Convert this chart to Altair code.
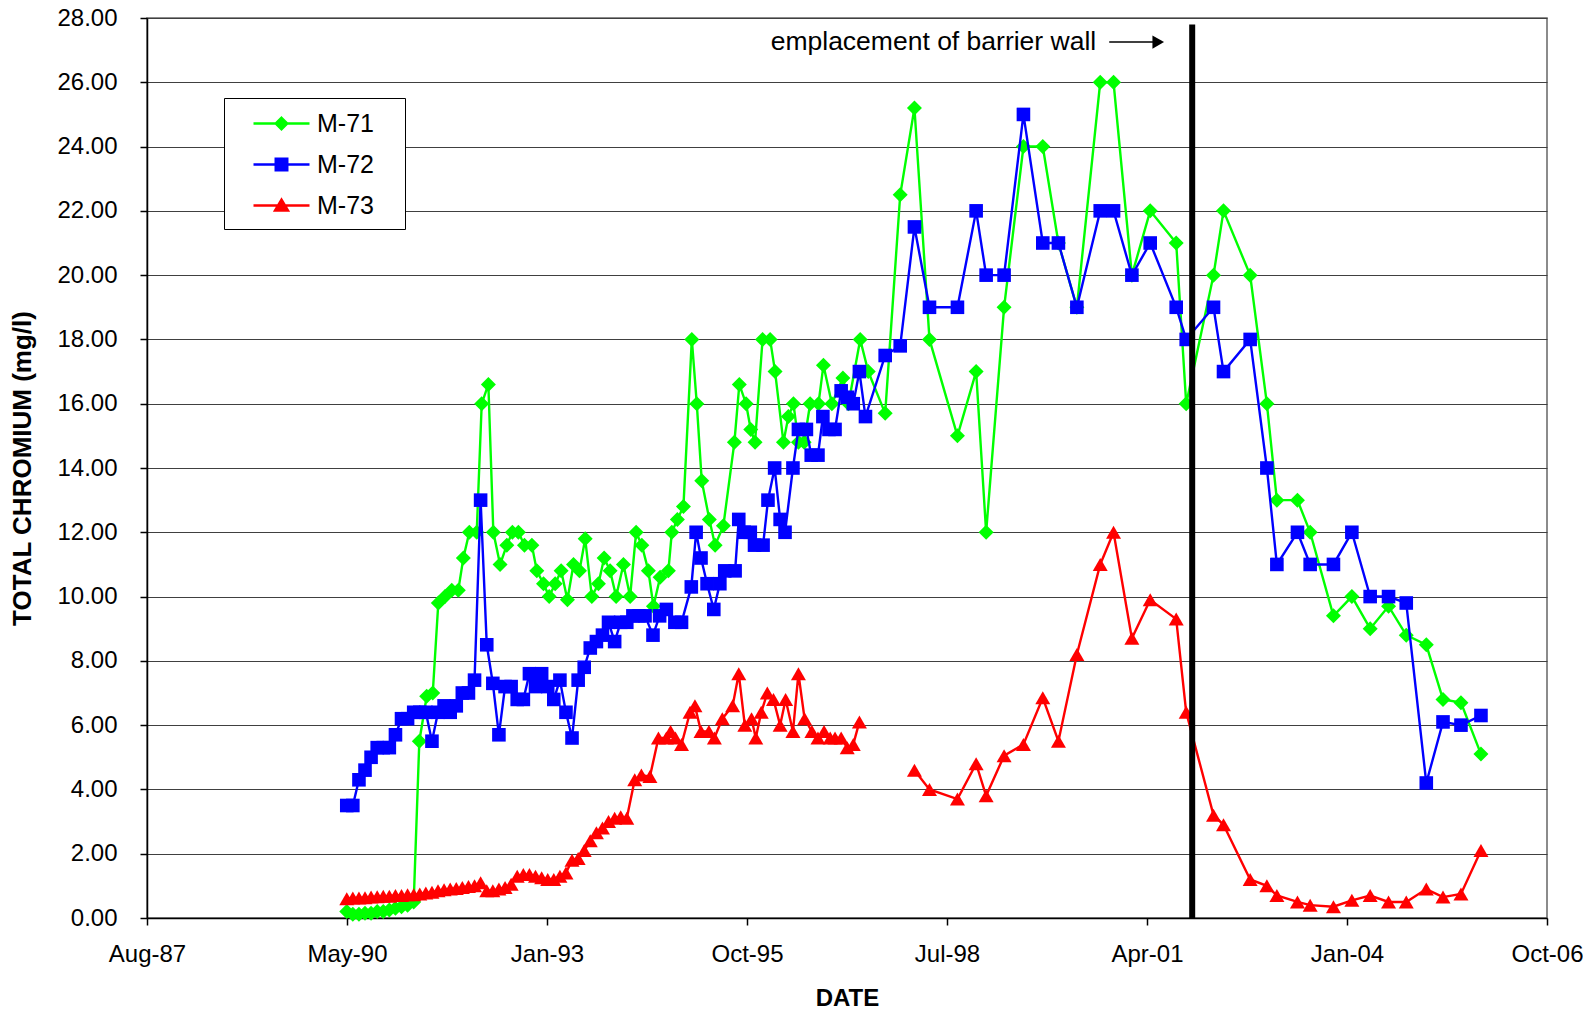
import altair as alt
import numpy as np
import pandas as pd

FONT = "Liberation Sans"

SERIES = ["M-71", "M-72", "M-73"]
COLORS = ["#00FF00", "#0000FF", "#FF0000"]
MARKERS = ["diamond", "square", "triangle-up"]
MARKER_SIZES = [225, 185, 225]

# legend glyphs: a line through a solid marker (unit = sqrt(symbolSize)/2 px)
_LINE = "M-2,0H2"
_PAD = "M7.75,0"
LEGEND_GLYPHS = [
    _LINE + "M0,-0.41L0.41,0L0,0.41L-0.41,0Z"
            "M0,-0.27L0.27,0L0,0.27L-0.27,0Z"
            "M0,-0.13L0.13,0L0,0.13L-0.13,0Z" + _PAD,
    _LINE + "M-0.41,-0.41H0.41V0.41H-0.41Z"
            "M-0.27,-0.27H0.27V0.27H-0.27Z"
            "M-0.13,-0.13H0.13V0.13H-0.13Z" + _PAD,
    _LINE + "M0,-0.42L0.46,0.36L-0.46,0.36Z"
            "M0,-0.238L0.3,0.269L-0.3,0.269Z"
            "M0,-0.056L0.138,0.178L-0.138,0.178Z" + _PAD,
]

# ---- data (decimal years, mg/l) ----
M71_YEARS = [
    1990.342, 1990.425, 1990.509, 1990.592, 1990.675, 1990.759, 1990.842, 1990.925,
    1991.009, 1991.092, 1991.175, 1991.259,
    1991.336, 1991.437, 1991.520, 1991.596, 1991.688, 1991.780, 1991.870, 1991.939,
    1992.021, 1992.122, 1992.190, 1992.281, 1992.349, 1992.441, 1992.533, 1992.609,
    1992.691, 1992.774, 1992.875, 1992.943,
    1993.034, 1993.112, 1993.194, 1993.276, 1993.362, 1993.445, 1993.527, 1993.605,
    1993.696, 1993.787, 1993.865, 1993.947,
    1994.029, 1994.129, 1994.221, 1994.303, 1994.381, 1994.471, 1994.540, 1994.632,
    1994.745, 1994.792, 1994.868, 1994.951,
    1995.066, 1995.134, 1995.202, 1995.306, 1995.385, 1995.498, 1995.649, 1995.717,
    1995.809, 1995.873, 1995.932,
    1996.035, 1996.138, 1996.206, 1996.320, 1996.388, 1996.457, 1996.525, 1996.603,
    1996.685, 1996.799, 1996.867, 1996.982,
    1997.133, 1997.210, 1997.370, 1997.480, 1997.712, 1997.918,
    1998.113, 1998.319, 1998.702, 1998.958, 1999.095, 1999.341, 1999.606, 1999.871,
    2000.085, 2000.337, 2000.656, 2000.838, 2001.089, 2001.340, 2001.696, 2001.833,
    2002.207, 2002.344, 2002.709, 2002.938, 2003.075, 2003.357, 2003.531, 2003.850,
    2004.102, 2004.352, 2004.603, 2004.845, 2005.119, 2005.348, 2005.594, 2005.868,
]
M71_VALUES = [
    0.2, 0.12, 0.12, 0.15, 0.15, 0.2, 0.2, 0.25, 0.3, 0.35, 0.4, 0.5,
    5.5, 6.9, 7.0, 9.8, 10.0, 10.2, 10.2, 11.2,
    12.0, 12.0, 16.0, 16.6, 12.0, 11.0, 11.6, 12.0, 12.0, 11.6, 11.6, 10.8,
    10.4, 10.0, 10.4, 10.8, 9.9, 11.0, 10.8, 11.8, 10.0, 10.4, 11.2, 10.8,
    10.0, 11.0, 10.0, 12.0, 11.6, 10.8, 9.7, 10.6, 10.8, 12.0, 12.4, 12.8,
    18.0, 16.0, 13.6, 12.4, 11.6, 12.2, 14.8, 16.6, 16.0, 15.2, 14.8,
    18.0, 18.0, 17.0, 14.8, 15.6, 16.0, 14.8, 14.8, 16.0, 16.0, 17.2, 16.0,
    16.8, 16.0, 18.0, 17.0, 15.7, 22.5,
    25.2, 18.0, 15.0, 17.0, 12.0, 19.0, 24.0, 24.0,
    21.0, 19.0, 26.0, 26.0, 20.0, 22.0, 21.0, 16.0,
    20.0, 22.0, 20.0, 16.0, 13.0, 13.0, 12.0, 9.4,
    10.0, 9.0, 9.7, 8.8, 8.5, 6.8, 6.7, 5.1,
]

M72_YEARS = [
    1990.342, 1990.425, 1990.509, 1990.592, 1990.675, 1990.759, 1990.842, 1990.925,
    1991.009, 1991.092, 1991.175, 1991.259, 1991.342, 1991.425, 1991.509, 1991.592,
    1991.675, 1991.759, 1991.842, 1991.925, 1992.009, 1992.092, 1992.175, 1992.259,
    1992.342, 1992.425, 1992.509, 1992.592, 1992.675, 1992.759, 1992.842, 1992.925,
    1993.009, 1993.092, 1993.175, 1993.259, 1993.342, 1993.425, 1993.509, 1993.592,
    1993.675, 1993.759, 1993.842, 1993.925, 1994.009, 1994.092, 1994.175, 1994.259,
    1994.342, 1994.425,
    1994.534, 1994.625, 1994.717, 1994.834, 1994.925,
    1995.059, 1995.125, 1995.192, 1995.275, 1995.367, 1995.450, 1995.517, 1995.659,
    1995.709, 1995.784, 1995.867, 1995.925,
    1996.042, 1996.109, 1996.200, 1996.275, 1996.342, 1996.450, 1996.525, 1996.634,
    1996.700, 1996.792, 1996.859, 1996.942,
    1997.025, 1997.109, 1997.192, 1997.275, 1997.359, 1997.442,
    1997.712, 1997.918,
    1998.113, 1998.319, 1998.702, 1998.958, 1999.095, 1999.341, 1999.606, 1999.871,
    2000.085, 2000.337, 2000.656, 2000.838, 2001.089, 2001.340, 2001.696, 2001.833,
    2002.207, 2002.344, 2002.709, 2002.938, 2003.075, 2003.357, 2003.531, 2003.850,
    2004.102, 2004.352, 2004.603, 2004.845, 2005.119, 2005.348, 2005.594, 2005.868,
]
M72_VALUES = [
    3.5, 3.5, 4.3, 4.6, 5.0, 5.3, 5.3, 5.3, 5.7, 6.2,
    6.2, 6.4, 6.4, 6.4, 5.5, 6.4, 6.6, 6.4, 6.6, 7.0,
    7.0, 7.4, 13.0, 8.5, 7.3, 5.7, 7.2, 7.2, 6.8, 6.8,
    7.6, 7.2, 7.6, 7.2, 6.8, 7.4, 6.4, 5.6, 7.4, 7.8,
    8.4, 8.6, 8.8, 9.2, 8.6, 9.2, 9.2, 9.4, 9.4, 9.4,
    8.8, 9.4, 9.6, 9.2, 9.2,
    10.3, 12.0, 11.2, 10.4, 9.6, 10.4, 10.8, 10.8, 12.4, 12.0, 12.0, 11.6,
    11.6, 13.0, 14.0, 12.4, 12.0, 14.0, 15.2, 15.2, 14.4, 14.4, 15.6, 15.2,
    15.2, 16.4, 16.2, 16.0, 17.0, 15.6,
    17.5, 17.8,
    21.5, 19.0, 19.0, 22.0, 20.0, 20.0, 25.0, 21.0,
    21.0, 19.0, 22.0, 22.0, 20.0, 21.0, 19.0, 18.0,
    19.0, 17.0, 18.0, 14.0, 11.0, 12.0, 11.0, 11.0,
    12.0, 10.0, 10.0, 9.8, 4.2, 6.1, 6.0, 6.3,
]

# None = no sample (the line is broken there)
M73_YEARS = [
    1990.342, 1990.425, 1990.509, 1990.592, 1990.675, 1990.759, 1990.842, 1990.925,
    1991.009, 1991.092, 1991.175, 1991.259, 1991.342, 1991.425, 1991.509, 1991.592,
    1991.675, 1991.759, 1991.842, 1991.925, 1992.009, 1992.092, 1992.175, 1992.259,
    1992.342, 1992.425, 1992.509, 1992.592, 1992.675, 1992.759, 1992.842, 1992.925,
    1993.009, 1993.092, 1993.175, 1993.259, 1993.342, 1993.425, 1993.509, 1993.592,
    1993.675, 1993.759, 1993.842, 1993.925, 1994.009, 1994.092, 1994.175,
    1994.284, 1994.375, 1994.492, 1994.609, 1994.717, 1994.775, 1994.842, 1994.925,
    1995.042, 1995.109, 1995.192, 1995.300, 1995.375, 1995.484, 1995.625, 1995.709,
    1995.792, 1995.884, 1995.942,
    1996.017, 1996.100, 1996.184, 1996.275, 1996.350, 1996.450, 1996.525, 1996.609,
    1996.709, 1996.792, 1996.875, 1996.959,
    1997.025, 1997.109, 1997.192, 1997.275, 1997.359,
    1997.712,
    1998.113, 1998.319, 1998.702, 1998.958, 1999.095, 1999.341, 1999.606, 1999.871,
    2000.085, 2000.337, 2000.656, 2000.838, 2001.089, 2001.340, 2001.696, 2001.833,
    2002.207, 2002.344, 2002.709, 2002.938, 2003.075, 2003.357, 2003.531, 2003.850,
    2004.102, 2004.352, 2004.603, 2004.845, 2005.119, 2005.348, 2005.594, 2005.868,
]
M73_VALUES = [
    0.6, 0.62, 0.62, 0.63, 0.65, 0.66, 0.68, 0.68, 0.7, 0.7,
    0.72, 0.72, 0.75, 0.78, 0.8, 0.85, 0.88, 0.9, 0.92, 0.95,
    0.98, 1.0, 1.1, 0.85, 0.85, 0.9, 0.95, 1.05, 1.3, 1.35,
    1.35, 1.3, 1.25, 1.2, 1.2, 1.3, 1.4, 1.8, 1.85, 2.1,
    2.4, 2.65, 2.8, 3.0, 3.1, 3.15, 3.1,
    4.3, 4.45, 4.4, 5.6, 5.6, 5.8, 5.6, 5.4,
    6.4, 6.6, 5.8, 5.8, 5.6, 6.2, 6.6, 7.6, 6.0, 6.2, 5.6,
    6.4, 7.0, 6.8, 6.0, 6.8, 5.8, 7.6, 6.2, 5.8, 5.6, 5.8, 5.6,
    5.6, 5.6, 5.3, 5.4, 6.1,
    None,
    4.6, 4.0, 3.7, 4.8, 3.8, 5.05, 5.4, 6.85,
    5.5, 8.2, 11.0, 12.0, 8.7, 9.9, 9.3, 6.4,
    3.2, 2.9, 1.2, 1.0, 0.7, 0.5, 0.4, 0.35,
    0.55, 0.7, 0.5, 0.5, 0.9, 0.65, 0.75, 2.1,
]

SERIES_YEARS = [M71_YEARS, M72_YEARS, M73_YEARS]
SERIES_VALUES = [M71_VALUES, M72_VALUES, M73_VALUES]

# annotation
BARRIER_YEAR = 2001.915
BARRIER_TOP = 27.8
NOTE_TEXT = "emplacement of barrier wall"
NOTE_END_YEAR = 2000.601
NOTE_LEVEL = 27.25
ARROW_FROM_YEAR = 2000.779
ARROW_TO_YEAR = 2001.450

# axis: Excel-style date axis, 1000-day major unit
X_START = pd.Timestamp("1987-08-11")
TICK_STEP_DAYS = 1000
N_TICKS = 8
Y_TICKS = list(range(0, 29, 2))


def year_to_ms(yr):
    y = int(np.floor(yr))
    start = pd.Timestamp(year=y, month=1, day=1)
    end = pd.Timestamp(year=y + 1, month=1, day=1)
    t = start + (end - start) * (yr - y)
    return int(t.value // 1_000_000)


def dt(ts):
    return alt.DateTime(year=ts.year, month=ts.month, date=ts.day, utc=True)


rows = []
for name, yrs, vals in zip(SERIES, SERIES_YEARS, SERIES_VALUES):
    assert len(yrs) == len(vals), (name, len(yrs), len(vals))
    seg = 0
    for yr, v in zip(yrs, vals):
        if v is None:
            seg += 1
            continue
        rows.append({"series": name, "t": year_to_ms(yr), "v": v, "seg": f"{name}-{seg}"})
df = pd.DataFrame(rows)

ticks = [X_START + pd.Timedelta(days=TICK_STEP_DAYS * i) for i in range(N_TICKS)]

x_scale = alt.Scale(type="utc", domain=[dt(ticks[0]), dt(ticks[-1])], nice=False)
y_scale = alt.Scale(domain=[0, 28], nice=False, zero=True)

x_axis = alt.Axis(
    values=[dt(t) for t in ticks], format="%b-%y", title="DATE", grid=False,
    labelFont=FONT, labelFontSize=24, labelColor="black", labelPadding=17,
    labelFlush=False, labelOverlap=False,
    tickSize=7, tickColor="black", tickWidth=1.5,
    domainColor="black", domainWidth=1.5,
    titleFont=FONT, titleFontSize=24, titleFontWeight="bold", titleColor="black",
    titleY=80, titleBaseline="middle",
)
y_axis = alt.Axis(
    values=Y_TICKS, format=".2f", title="TOTAL CHROMIUM (mg/l)",
    grid=True, gridColor="#404040", gridWidth=1,
    labelFont=FONT, labelFontSize=24, labelColor="black", labelPadding=23,
    tickSize=7, tickColor="black", tickWidth=1.5,
    domainColor="black", domainWidth=1.5,
    titleFont=FONT, titleFontSize=26, titleFontWeight="bold", titleColor="black",
    titleX=-125, titleBaseline="middle",
)

X = alt.X("t:T", scale=x_scale, axis=x_axis)
Y = alt.Y("v:Q", scale=y_scale, axis=y_axis)

layers = []
for name, color, marker, msize in zip(SERIES, COLORS, MARKERS, MARKER_SIZES):
    base = alt.Chart(df[df.series == name]).encode(x=X, y=Y)
    layers.append(base.mark_line(color=color, strokeWidth=2.4).encode(detail="seg:N"))
    layers.append(base.mark_point(shape=marker, filled=True, size=msize, color=color, opacity=1))

LEG = alt.Legend(
    title=None, orient="none", legendX=77, legendY=80,
    padding=10, strokeColor="black", fillColor="white",
    labelFont=FONT, labelFontSize=25, labelColor="black",
    labelOffset=20, symbolOffset=32, symbolSize=784, symbolStrokeWidth=2.5,
    rowPadding=12,
)
legend_layer = alt.Chart(df).mark_point(filled=True, opacity=0).encode(
    x=X, y=Y,
    fill=alt.Fill("series:N", scale=alt.Scale(domain=SERIES, range=COLORS), legend=LEG),
    stroke=alt.Stroke("series:N", scale=alt.Scale(domain=SERIES, range=COLORS), legend=LEG),
    shape=alt.Shape("series:N", scale=alt.Scale(domain=SERIES, range=LEGEND_GLYPHS), legend=LEG),
)

barrier = alt.Chart(pd.DataFrame({
    "t": [year_to_ms(BARRIER_YEAR)], "v": [0.0], "v2": [BARRIER_TOP]
})).mark_rule(color="black", strokeWidth=6, strokeCap="butt").encode(x=X, y=Y, y2=alt.Y2("v2"))

note = alt.Chart(pd.DataFrame({
    "t": [year_to_ms(NOTE_END_YEAR)], "v": [NOTE_LEVEL], "label": [NOTE_TEXT]
})).mark_text(align="right", baseline="middle", font=FONT, fontSize=26.5, color="black").encode(
    x=X, y=Y, text="label:N")

arrow = alt.Chart(pd.DataFrame({
    "t": [year_to_ms(ARROW_FROM_YEAR)], "t2": [year_to_ms(ARROW_TO_YEAR)], "v": [NOTE_LEVEL]
})).mark_rule(color="black", strokeWidth=1.5).encode(x=X, x2=alt.X2("t2"), y=Y)

head = alt.Chart(pd.DataFrame({
    "t": [year_to_ms(ARROW_TO_YEAR)], "v": [NOTE_LEVEL]
})).mark_point(shape="triangle-right", filled=True, size=180, color="black", opacity=1).encode(x=X, y=Y)

chart = alt.layer(*layers, legend_layer, barrier, note, arrow, head).properties(
    width=1400, height=900,
    padding={"left": 139, "top": 10, "right": 36, "bottom": 92},
    autosize=alt.AutoSizeParams(type="none"),
).configure_view(stroke="#666666", strokeWidth=1.5)

chart.save("out.html", embed_options={"renderer": "svg", "actions": False})
